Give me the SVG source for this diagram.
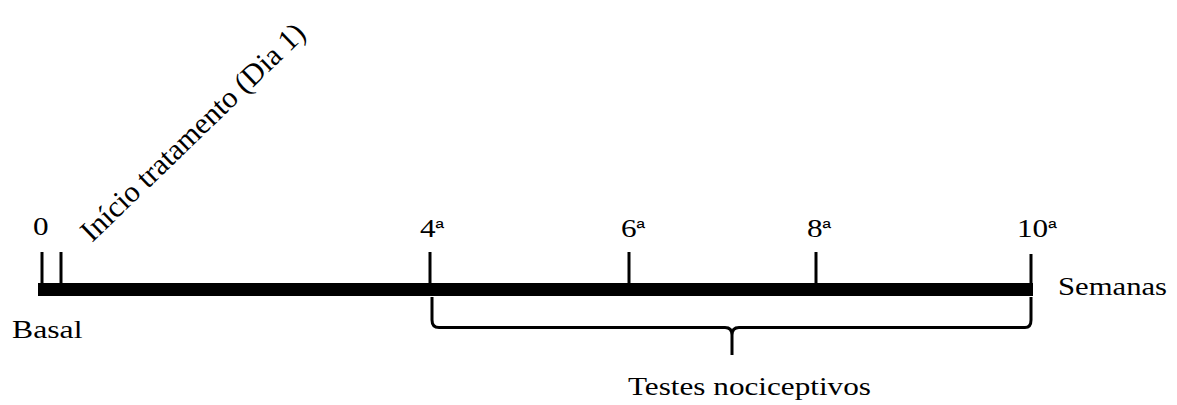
<svg xmlns="http://www.w3.org/2000/svg" width="1177" height="405" viewBox="0 0 1177 405">
<style>
.t{font-family:"Liberation Serif","Times New Roman",serif;font-size:26px;fill:#000}
.sup{font-family:"Liberation Sans",Arial,sans-serif;font-size:19px}
.tick{stroke:#000;stroke-width:3;fill:none}
</style>
<rect width="1177" height="405" fill="#fff"/>
<g id="axis">
<rect x="38" y="283" width="995" height="13" fill="#000"/>
</g>
<g id="connectors">
<line class="tick" x1="42" y1="252" x2="42" y2="284"/>
<line class="tick" x1="61" y1="252" x2="61" y2="284"/>
<line class="tick" x1="430" y1="252" x2="430" y2="284"/>
<line class="tick" x1="629" y1="252" x2="629" y2="284"/>
<line class="tick" x1="816" y1="252" x2="816" y2="284"/>
<line class="tick" x1="1031" y1="254" x2="1031" y2="284"/>
<path class="tick" d="M432,297 V320 Q432,327.5 439,327.5 H725 Q732,327.5 732,335 V355 M732,335 Q732,327.5 739,327.5 H1025 Q1031,327.5 1031,320 V297"/>
</g>
<g id="label-0"><text class="t" transform="translate(33,235) scale(1.2,1)">0</text></g>
<g id="label-inicio"><text class="t" transform="translate(92,243) rotate(-44)" style="font-size:30px">Início tratamento (Dia 1)</text></g>
<g id="label-4"><text class="t" transform="translate(420,237) scale(1.2,1)">4<tspan class="sup" dy="-3">ª</tspan></text></g>
<g id="label-6"><text class="t" transform="translate(621,237) scale(1.2,1)">6<tspan class="sup" dy="-3">ª</tspan></text></g>
<g id="label-8"><text class="t" transform="translate(807,237) scale(1.2,1)">8<tspan class="sup" dy="-3">ª</tspan></text></g>
<g id="label-10"><text class="t" transform="translate(1017,237) scale(1.2,1)">10<tspan class="sup" dy="-3">ª</tspan></text></g>
<g id="label-semanas"><text class="t" transform="translate(1058,295) scale(1.18,1)">Semanas</text></g>
<g id="label-basal"><text class="t" transform="translate(12,338) scale(1.22,1)">Basal</text></g>
<g id="label-testes"><text class="t" transform="translate(628,395) scale(1.2,1)">Testes nociceptivos</text></g>
</svg>
